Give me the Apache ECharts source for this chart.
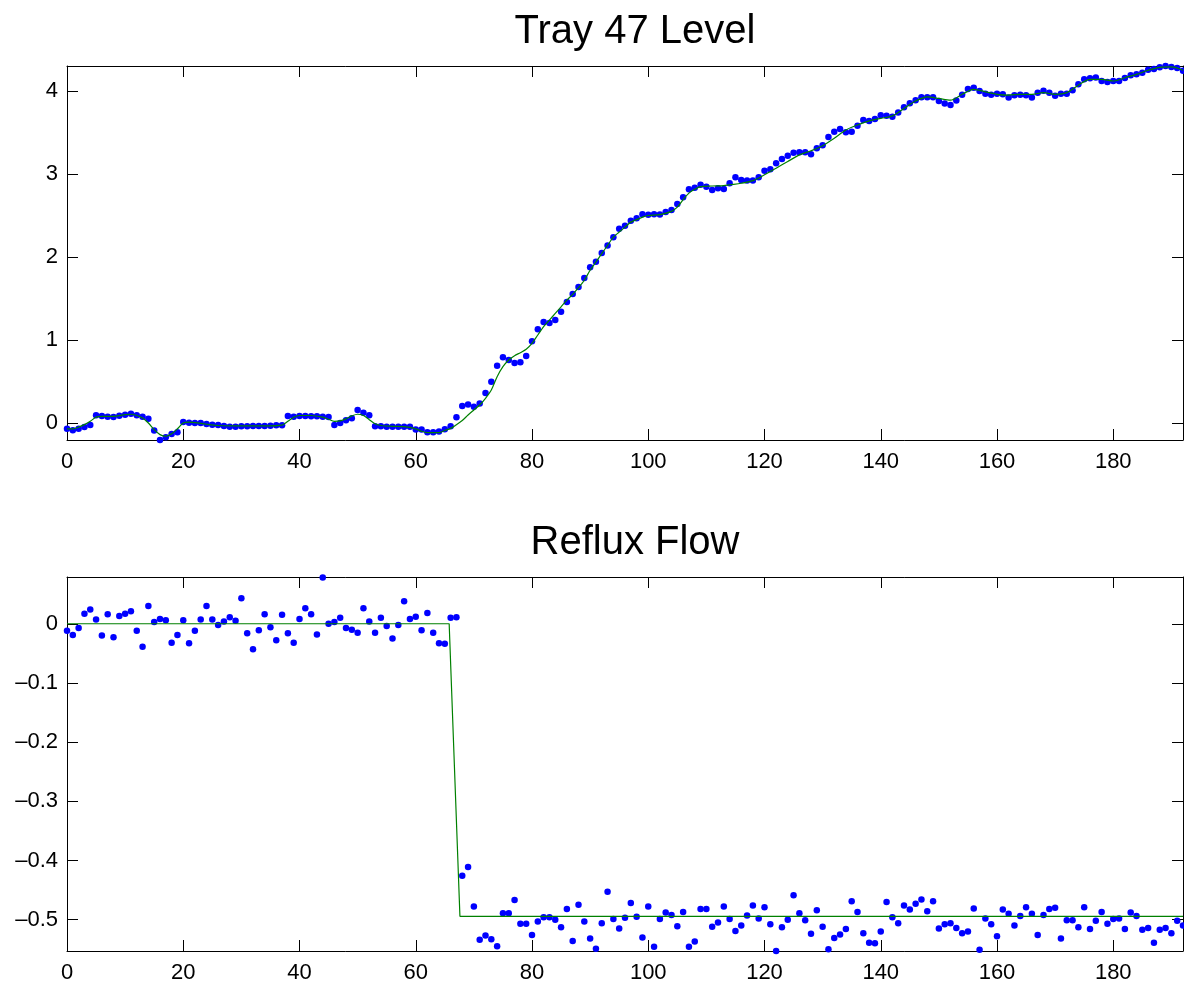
<!DOCTYPE html>
<html>
<head>
<meta charset="utf-8">
<title>Tray 47 Level / Reflux Flow</title>
<script src="https://cdn.jsdelivr.net/npm/echarts@6/dist/echarts.min.js"></script>
<style>
  html, body { margin: 0; padding: 0; background: #fff; }
  #chart { width: 1184px; height: 989px; }
</style>
</head>
<body>
<div id="chart"></div>
<script>
'use strict';

// measured tray level, one sample per time step (0..192)
const levelMeasured = [
  -0.068, -0.088, -0.068, -0.048, -0.024, 0.092, 0.084, 0.076, 0.072, 0.088,
  0.100, 0.112, 0.092, 0.076, 0.052, -0.092, -0.205, -0.173, -0.133, -0.113,
  0.012, 0.004, 0.000, 0.000, -0.012, -0.020, -0.024, -0.036, -0.044, -0.044,
  -0.040, -0.040, -0.036, -0.036, -0.036, -0.032, -0.028, -0.028, 0.084, 0.076,
  0.084, 0.084, 0.080, 0.080, 0.076, 0.072, -0.024, 0.000, 0.032, 0.056,
  0.157, 0.124, 0.092, -0.040, -0.040, -0.044, -0.044, -0.044, -0.044, -0.044,
  -0.080, -0.080, -0.113, -0.113, -0.104, -0.074, -0.038, 0.070, 0.205, 0.223,
  0.197, 0.235, 0.361, 0.496, 0.690, 0.791, 0.759, 0.723, 0.731, 0.807,
  0.984, 1.129, 1.217, 1.205, 1.241, 1.341, 1.458, 1.554, 1.639, 1.747,
  1.876, 1.944, 2.048, 2.137, 2.237, 2.341, 2.377, 2.437, 2.466, 2.514,
  2.508, 2.514, 2.512, 2.542, 2.566, 2.639, 2.719, 2.815, 2.835, 2.871,
  2.847, 2.807, 2.827, 2.819, 2.888, 2.960, 2.928, 2.920, 2.920, 2.960,
  3.040, 3.056, 3.129, 3.181, 3.221, 3.257, 3.261, 3.261, 3.237, 3.309,
  3.345, 3.446, 3.510, 3.542, 3.502, 3.510, 3.582, 3.651, 3.639, 3.663,
  3.707, 3.703, 3.691, 3.740, 3.803, 3.853, 3.888, 3.924, 3.924, 3.924,
  3.880, 3.850, 3.831, 3.884, 3.956, 4.024, 4.040, 4.000, 3.968, 3.956,
  3.968, 3.960, 3.920, 3.948, 3.956, 3.948, 3.920, 3.980, 4.004, 3.980,
  3.944, 3.968, 3.968, 4.008, 4.080, 4.141, 4.153, 4.161, 4.120, 4.108,
  4.120, 4.120, 4.157, 4.189, 4.201, 4.221, 4.257, 4.265, 4.285, 4.301,
  4.289, 4.277, 4.245
];

// smooth level trend (green), read at these times
const levelTrendX = [
  0, 1, 2, 3, 4, 5, 6, 8, 10, 11, 12, 13, 14, 15, 16, 17, 18, 19, 20, 21,
  22, 24, 26, 30, 34, 37, 38, 39, 40, 42, 44, 45, 46, 47, 48, 49, 50, 51, 52, 53,
  54, 56, 58, 60, 61, 62, 64, 65, 66, 67, 68, 69, 70, 71, 72, 73, 74, 75, 76, 77,
  78, 79, 80, 81, 82, 83, 84, 85, 86, 87, 88, 89, 90, 91, 92, 93, 94, 95, 96, 97,
  98, 99, 100, 102, 104, 105, 106, 107, 108, 109, 111, 113, 114, 116, 118, 120, 122, 124, 126, 128,
  130, 132, 134, 136, 138, 140, 142, 144, 146, 148, 150, 152, 154, 156, 158, 160, 162, 164, 166, 168,
  170, 172, 174, 176, 178, 180, 182, 184, 186, 188, 190, 192
];
const levelTrendY = [
  -0.07, -0.07, -0.05, -0.02, 0.02, 0.07, 0.08, 0.08, 0.10, 0.105, 0.09, 0.06, 0.00, -0.08, -0.14, -0.16, -0.13, -0.07, 0.00, 0.01,
  0.005, -0.015, -0.03, -0.035, -0.035, -0.025, 0.02, 0.07, 0.09, 0.09, 0.07, 0.045, 0.02, 0.025, 0.05, 0.085, 0.105, 0.09, 0.04, -0.01,
  -0.03, -0.04, -0.045, -0.07, -0.10, -0.115, -0.115, -0.09, -0.065, -0.02, 0.03, 0.096, 0.157, 0.217, 0.297, 0.397, 0.558, 0.679, 0.759, 0.811,
  0.847, 0.888, 0.96, 1.06, 1.16, 1.24, 1.32, 1.40, 1.48, 1.55, 1.63, 1.72, 1.84, 1.94, 2.04, 2.14, 2.24, 2.30, 2.36, 2.42,
  2.45, 2.48, 2.50, 2.51, 2.55, 2.60, 2.69, 2.77, 2.815, 2.847, 2.855, 2.86, 2.87, 2.888, 2.92, 2.99, 3.07, 3.15, 3.23, 3.28,
  3.34, 3.43, 3.53, 3.59, 3.64, 3.67, 3.70, 3.79, 3.88, 3.93, 3.91, 3.89, 3.96, 4.02, 3.99, 3.96, 3.95, 3.96, 3.96, 3.98,
  3.96, 3.98, 4.07, 4.14, 4.14, 4.12, 4.16, 4.20, 4.25, 4.285, 4.29, 4.25
];

// measured reflux flow, one sample per time step (0..192)
const refluxMeasured = [
  -0.012, -0.019, -0.007, 0.017, 0.024, 0.007, -0.020, 0.016, -0.023, 0.013,
  0.017, 0.021, -0.012, -0.039, 0.030, 0.003, 0.008, 0.006, -0.032, -0.019,
  0.006, -0.033, -0.012, 0.007, 0.030, 0.007, -0.002, 0.004, 0.011, 0.005,
  0.043, -0.016, -0.043, -0.011, 0.016, -0.006, -0.028, 0.015, -0.016, -0.032,
  0.008, 0.026, 0.016, -0.018, 0.078, 0.000, 0.003, 0.010, -0.007, -0.010,
  -0.015, 0.026, 0.004, -0.015, 0.010, -0.004, -0.025, -0.002, 0.038, 0.008,
  0.012, -0.011, 0.018, -0.015, -0.033, -0.034, 0.010, 0.011, -0.426, -0.411,
  -0.478, -0.534, -0.527, -0.533, -0.545, -0.489, -0.489, -0.467, -0.507, -0.507,
  -0.526, -0.503, -0.496, -0.496, -0.500, -0.513, -0.482, -0.536, -0.475, -0.503,
  -0.532, -0.549, -0.506, -0.453, -0.499, -0.515, -0.497, -0.472, -0.495, -0.530,
  -0.478, -0.546, -0.499, -0.488, -0.492, -0.511, -0.487, -0.546, -0.537, -0.482,
  -0.482, -0.512, -0.505, -0.478, -0.499, -0.519, -0.510, -0.493, -0.476, -0.498,
  -0.479, -0.508, -0.553, -0.513, -0.500, -0.459, -0.489, -0.501, -0.524, -0.484,
  -0.512, -0.550, -0.531, -0.525, -0.516, -0.469, -0.487, -0.523, -0.539, -0.540,
  -0.520, -0.470, -0.496, -0.506, -0.476, -0.483, -0.473, -0.466, -0.486, -0.469,
  -0.515, -0.508, -0.506, -0.514, -0.523, -0.520, -0.481, -0.551, -0.498, -0.508,
  -0.528, -0.483, -0.490, -0.510, -0.494, -0.479, -0.490, -0.526, -0.492, -0.482,
  -0.480, -0.532, -0.501, -0.501, -0.513, -0.479, -0.516, -0.502, -0.487, -0.507,
  -0.499, -0.498, -0.516, -0.488, -0.494, -0.517, -0.514, -0.539, -0.517, -0.514,
  -0.523, -0.502, -0.510
];

// reflux step (green)
const refluxStepX = [0, 65.75, 67.6, 192];
const refluxStepY = [0, 0, -0.4944, -0.4944];

const xTicks = [0, 20, 40, 60, 80, 100, 120, 140, 160, 180];
const levelTicks = [0, 1, 2, 3, 4];
const refluxTicks = [-0.5, -0.4, -0.3, -0.2, -0.1, 0];

const FONT = 'Liberation Sans';

function pairs(xs, ys) {
  return xs.map((x, i) => [x, ys[i]]);
}
function indexed(ys) {
  return ys.map((y, i) => [i, y]);
}

function xAxisPair(grid) {
  const base = {
    type: 'value', gridIndex: grid, min: 0, max: 192,
    splitLine: {show: false},
    axisLine: {onZero: false, lineStyle: {color: '#000', width: 1}},
    axisTick: {inside: true, length: 11, customValues: xTicks, lineStyle: {color: '#000'}}
  };
  return [
    Object.assign({}, base, {
      position: 'bottom',
      axisLabel: {customValues: xTicks, color: '#000', fontSize: 22, fontFamily: FONT, margin: 11}
    }),
    Object.assign({}, base, {position: 'top', axisLabel: {show: false}})
  ];
}

function yAxisPair(grid, min, max, ticks, fmt) {
  const base = {
    type: 'value', gridIndex: grid, min: min, max: max,
    splitLine: {show: false},
    axisLine: {onZero: false, lineStyle: {color: '#000', width: 1}},
    axisTick: {inside: true, length: 11, customValues: ticks, lineStyle: {color: '#000'}}
  };
  return [
    Object.assign({}, base, {
      position: 'left',
      axisLabel: {customValues: ticks, color: '#000', fontSize: 22, fontFamily: FONT, margin: 9, formatter: fmt}
    }),
    Object.assign({}, base, {position: 'right', axisLabel: {show: false}})
  ];
}

const fmtLevel = v => String(Math.round(v));
const fmtReflux = v => {
  const r = Math.round(v * 10) / 10;
  return r === 0 ? '0' : '\u2013' + Math.abs(r).toFixed(1);
};

const chart = echarts.init(document.getElementById('chart'), null, {renderer: 'canvas'});

const titleStyle = {fontFamily: FONT, fontSize: 40, fontWeight: 'normal', color: '#000'};

const option = {
  animation: false,
  backgroundColor: '#fff',
  title: [
    {text: 'Tray 47 Level', left: 630, top: 7, textAlign: 'center', textStyle: titleStyle},
    {text: 'Reflux Flow', left: 630, top: 518, textAlign: 'center', textStyle: titleStyle}
  ],
  grid: [
    {left: 67, top: 66, width: 1116, height: 374},
    {left: 67, top: 577, width: 1116, height: 374}
  ],
  xAxis: xAxisPair(0).concat(xAxisPair(1)),
  yAxis: yAxisPair(0, -0.205, 4.301, levelTicks, fmtLevel)
    .concat(yAxisPair(1, -0.553, 0.079, refluxTicks, fmtReflux)),
  series: [
    {
      name: 'level measured', type: 'scatter', xAxisIndex: 0, yAxisIndex: 0,
      data: indexed(levelMeasured), symbolSize: 6.5, clip: false,
      itemStyle: {color: '#0000ff', opacity: 1}, z: 2
    },
    {
      name: 'level trend', type: 'line', xAxisIndex: 0, yAxisIndex: 0,
      data: pairs(levelTrendX, levelTrendY), showSymbol: false, smooth: 0.3,
      lineStyle: {color: '#008000', width: 1.2}, z: 3
    },
    {
      name: 'reflux measured', type: 'scatter', xAxisIndex: 2, yAxisIndex: 2,
      data: indexed(refluxMeasured), symbolSize: 6.5, clip: false,
      itemStyle: {color: '#0000ff', opacity: 1}, z: 2
    },
    {
      name: 'reflux step', type: 'line', xAxisIndex: 2, yAxisIndex: 2,
      data: pairs(refluxStepX, refluxStepY), showSymbol: false,
      lineStyle: {color: '#008000', width: 1.2}, z: 3
    }
  ]
};

chart.setOption(option);
</script>
</body>
</html>
